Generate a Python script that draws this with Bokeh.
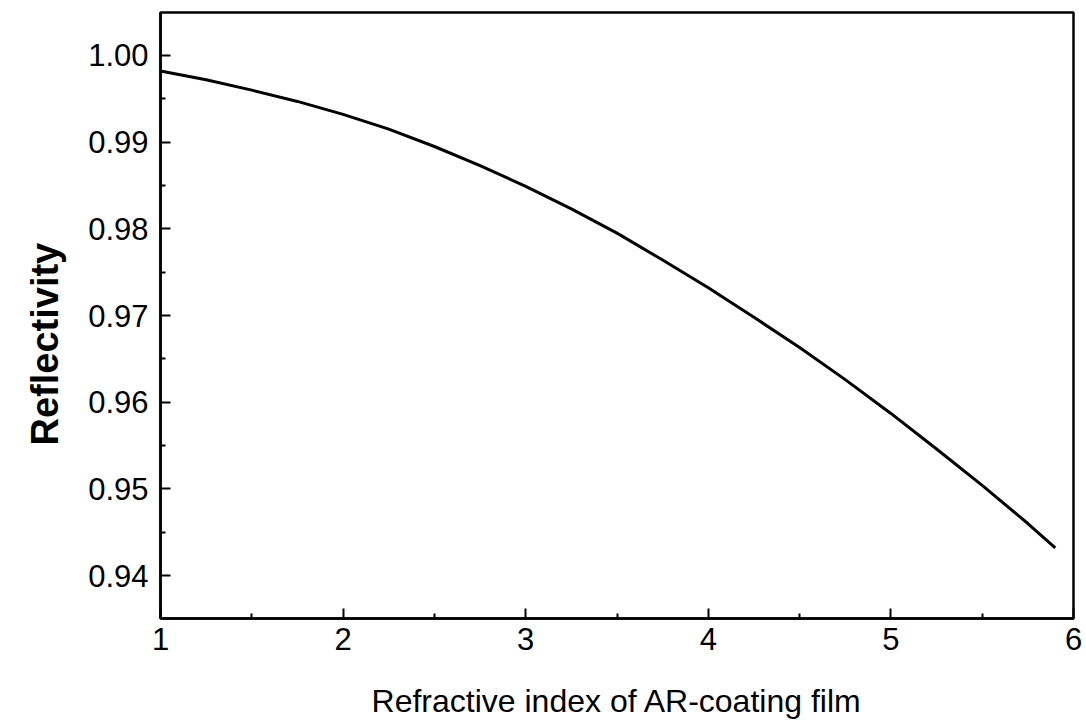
from bokeh.plotting import figure
from bokeh.models import Range1d, FixedTicker, ColumnDataSource, CustomJSTickFormatter, Title
from bokeh.embed import file_html
from bokeh.resources import INLINE

# Data
refractive_index = [1.0, 1.25, 1.5, 1.75, 2.0, 2.25, 2.5, 2.75, 3.0, 3.25, 3.5,
                    3.75, 4.0, 4.25, 4.5, 4.75, 5.0, 5.25, 5.5, 5.75, 5.9]
reflectivity = [0.9982, 0.9972, 0.9960, 0.9947, 0.9932, 0.9915, 0.9895, 0.9873,
                0.9849, 0.9823, 0.9795, 0.9764, 0.9732, 0.9698, 0.9663, 0.9626,
                0.9587, 0.9546, 0.9504, 0.9460, 0.9432]
x_ticks = [1, 2, 3, 4, 5, 6]
x_minor = [1.5, 2.5, 3.5, 4.5, 5.5]
y_ticks = [0.94, 0.95, 0.96, 0.97, 0.98, 0.99, 1.00]
y_minor = [0.935, 0.945, 0.955, 0.965, 0.975, 0.985, 0.995]

src = ColumnDataSource(dict(x=refractive_index, y=reflectivity))

p = figure(width=1086, height=722, output_backend="svg", toolbar_location=None,
           x_range=Range1d(1, 6), y_range=Range1d(0.93504, 1.00496),
           min_border_left=160, min_border_right=13, min_border_top=12,
           min_border_bottom=104)
p.line("x", "y", source=src, line_color="black", line_width=3)

p.grid.visible = False
p.outline_line_color = "black"
p.outline_line_width = 2.5
p.background_fill_color = "white"
p.border_fill_color = "white"

font = "Liberation Sans"
for ax in (p.xaxis[0], p.yaxis[0]):
    ax.axis_line_width = 2.5
    ax.axis_line_color = "black"
    ax.major_tick_in = 10
    ax.major_tick_out = 0
    ax.minor_tick_in = 5
    ax.minor_tick_out = 0
    ax.major_tick_line_width = 2
    ax.minor_tick_line_width = 2
    ax.major_tick_line_color = "black"
    ax.minor_tick_line_color = "black"
    ax.major_label_text_font = font
    ax.major_label_text_font_size = "31px"
    ax.major_label_text_color = "black"
    ax.axis_label_text_font = font
    ax.axis_label_text_color = "black"

p.xaxis.ticker = FixedTicker(ticks=x_ticks, minor_ticks=x_minor)
p.yaxis.ticker = FixedTicker(ticks=y_ticks, minor_ticks=y_minor)
p.yaxis.formatter = CustomJSTickFormatter(code="return tick.toFixed(2);")

p.xaxis.axis_label = "Refractive index of AR-coating film"
p.xaxis.axis_label_text_font_style = "normal"
p.xaxis.axis_label_text_font_size = "32px"
p.xaxis.major_label_standoff = 9
p.xaxis.axis_label_standoff = 30

p.yaxis.major_label_standoff = 12

ylabel = Title(text="Reflectivity", align="left", offset=173, standoff=40,
               text_font=font, text_font_size="38px", text_font_style="bold",
               text_color="black")
p.add_layout(ylabel, "left")

open("out.html", "w").write(file_html(p, INLINE))
